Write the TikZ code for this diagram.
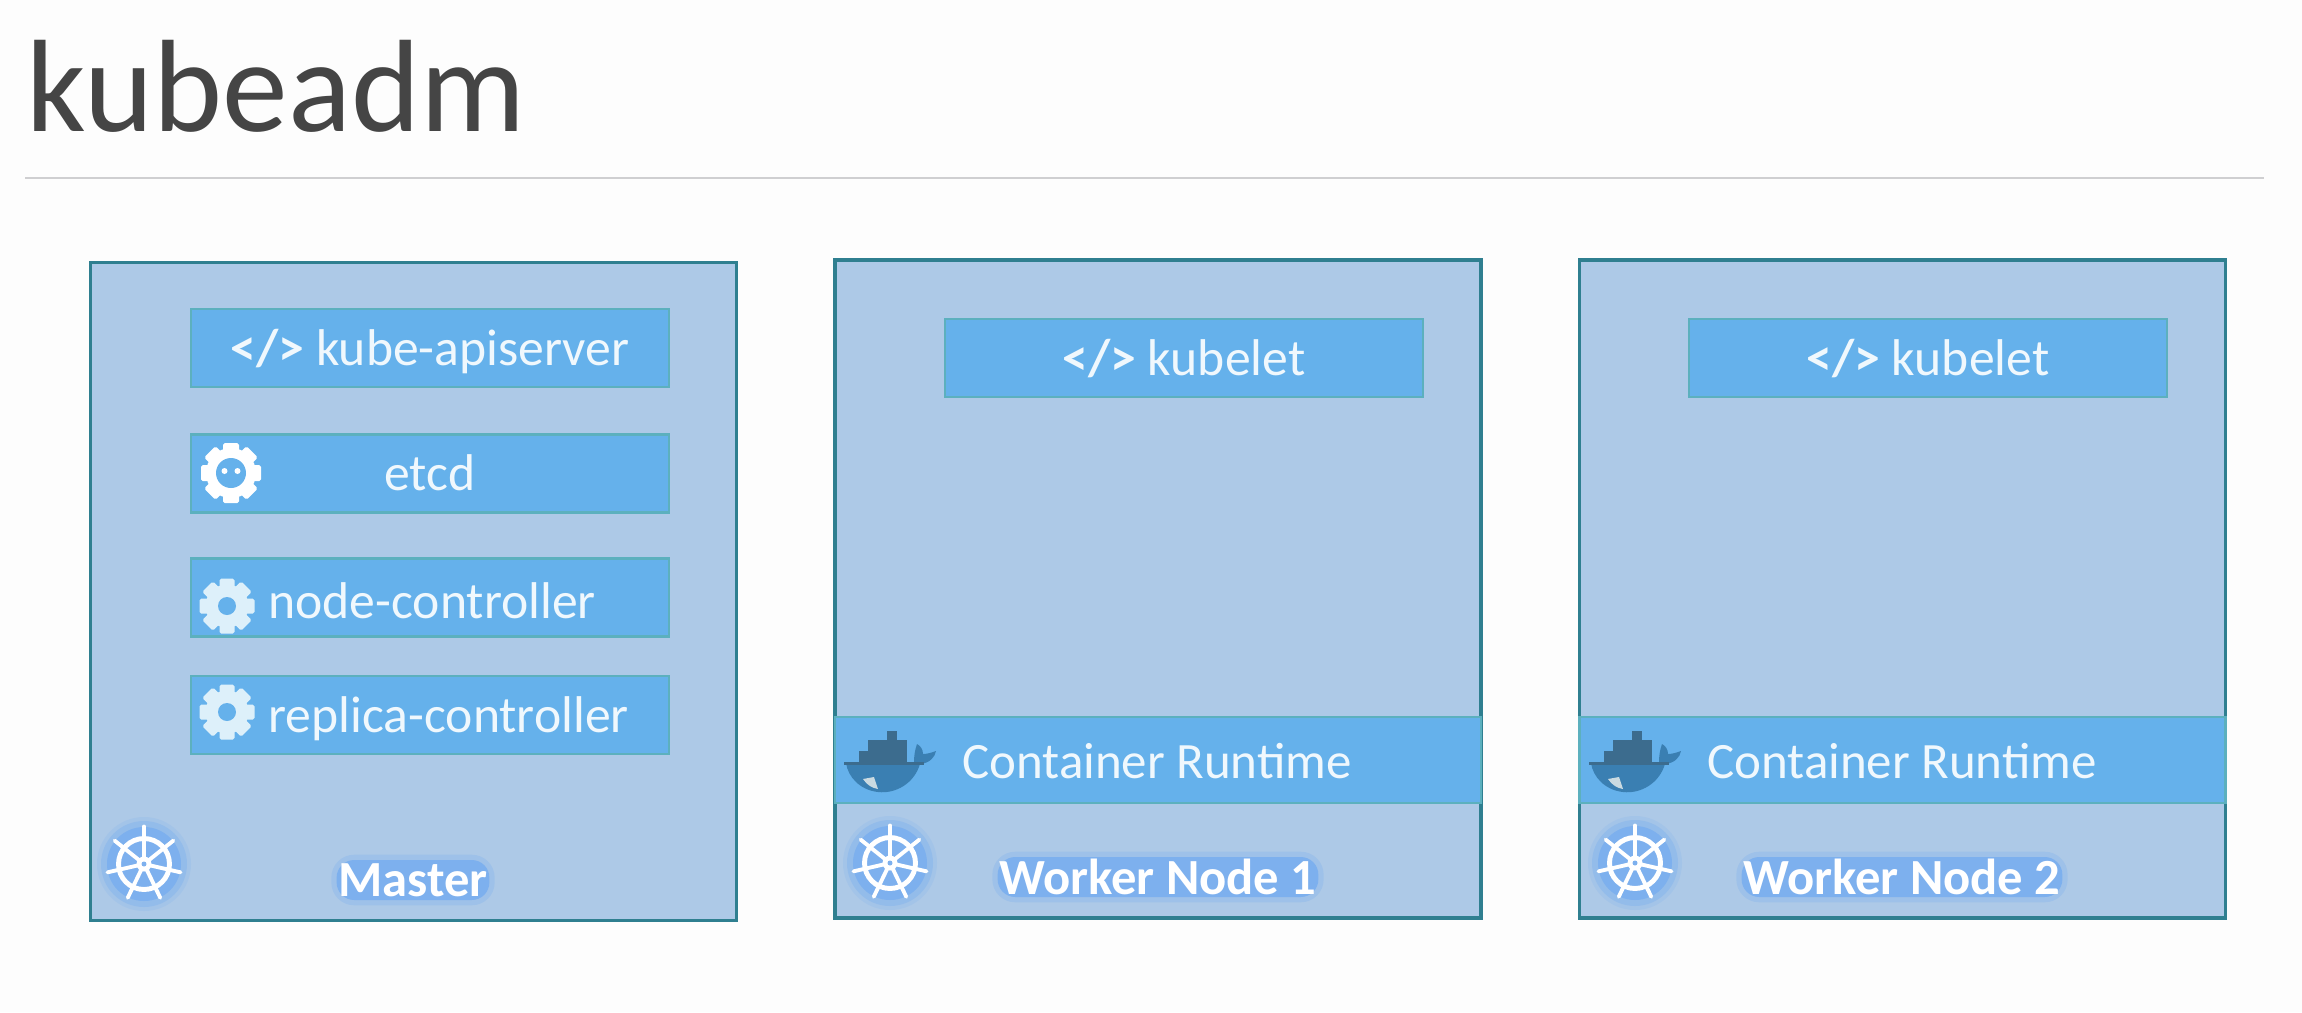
\documentclass[tikz,border=0pt]{standalone}
\usepackage{fontspec}
\setmainfont{Carlito}
\usetikzlibrary{positioning}

\definecolor{pagewhite}{HTML}{FDFDFD}
\definecolor{rulegray}{HTML}{CFCFD1}
\definecolor{titlegray}{HTML}{454545}
\definecolor{panelblue}{HTML}{ADC9E7}
\definecolor{panelteal}{HTML}{2F7F90}
\definecolor{boxblue}{HTML}{65B1EB}
\definecolor{boxteal}{HTML}{5CB0BE}
\definecolor{textwhite}{HTML}{F0F8FD}
\definecolor{gearwhite}{HTML}{DDF0FA}
\definecolor{glowblue}{HTML}{7DB0EE}
\definecolor{whaleblue}{HTML}{3A7FB2}
\definecolor{cratedark}{HTML}{3C6C8E}

\tikzstyle{panel}=[draw=panelteal,line width=0.9pt,fill=panelblue,minimum width=6.46cm,minimum height=6.58cm]
\tikzstyle{itembox}=[draw=boxteal,line width=0.7pt,fill=boxblue,minimum width=4.78cm,minimum height=0.78cm,text=textwhite,text height=11.2pt,text depth=1.3pt,font=\fontsize{14.7}{16}\selectfont]
\tikzstyle{runtimebox}=[draw=boxteal,line width=0.7pt,fill=boxblue,minimum width=6.46cm,minimum height=0.86cm]
\tikzstyle{itemtext}=[text=textwhite,inner sep=0pt,font=\fontsize{14.7}{16}\selectfont]
\tikzstyle{runtimetext}=[text=textwhite,inner sep=0pt,font=\fontsize{14.5}{16}\selectfont]
\tikzstyle{glowlabel}=[fill=glowblue,rounded corners=5pt,text=white,inner xsep=0.5pt,inner ysep=0pt,minimum height=0.40cm,font=\fontsize{14.4}{16}\selectfont\bfseries,preaction={draw=glowblue,line width=3pt,opacity=0.3}]

% gear: centre x, centre y
\newcommand{\drawgear}[2]{
\begin{scope}[shift={(#1,#2)}]
\foreach \a in {0,45,...,315} {
  \fill[gearwhite,rotate=\a,rounded corners=0.5pt] (-0.075,0) rectangle (0.075,0.275);
}
\fill[gearwhite] (0,0) circle (0.215);
\fill[boxblue] (0,0) circle (0.09);
\end{scope}
}
% etcd head
\newcommand{\drawetcd}[2]{
\begin{scope}[shift={(#1,#2)}]
\foreach \a in {0,45,...,315} {
  \fill[white,rotate=\a,rounded corners=0.5pt] (-0.08,0) rectangle (0.08,0.30);
}
\fill[white] (0,0) circle (0.25);
\fill[boxblue] (0,0) circle (0.15);
\fill[white] (-0.065,0.02) circle (0.03);
\fill[white] (0.065,0.02) circle (0.03);
\end{scope}
}
% helm wheel with its glow
\newcommand{\drawwheel}[2]{
\begin{scope}[shift={(#1,#2)}]
\fill[glowblue,opacity=0.2] (0,0) circle (0.47);
\fill[glowblue,opacity=0.4] (0,0) circle (0.43);
\fill[glowblue] (0,0) circle (0.37);
\draw[white,line width=1.4pt] (0,0) circle (0.255);
\foreach \a in {0,...,6} {
  \draw[white,line width=1.1pt,line cap=round] (0,0) -- (90+\a*51.43:0.375);
}
\fill[white] (0,0) circle (0.075);
\fill[glowblue] (0,0) circle (0.025);
\end{scope}
}
% docker whale
\newcommand{\drawwhale}[2]{
\begin{scope}[shift={(#1,#2)}]
\fill[cratedark] (-0.31,-0.03) rectangle (0.17,0.09);
\fill[cratedark] (-0.22,0.09) rectangle (0.17,0.20);
\fill[cratedark] (-0.03,0.20) rectangle (0.07,0.29);
\fill[whaleblue] (-0.44,-0.03) -- (0.24,-0.03) .. controls (0.24,0.05) and (0.25,0.10) .. (0.27,0.16) .. controls (0.31,0.14) and (0.33,0.10) .. (0.33,0.06) .. controls (0.38,0.06) and (0.43,0.08) .. (0.46,0.09) .. controls (0.45,0.03) and (0.40,-0.03) .. (0.30,-0.04) .. controls (0.24,-0.24) and (0.05,-0.34) .. (-0.12,-0.32) .. controls (-0.30,-0.30) and (-0.42,-0.17) .. cycle;
\fill[cratedark] (-0.46,-0.05) rectangle (0.34,-0.015);
\fill[gearwhite!80!gray] (-0.27,-0.19) -- (-0.16,-0.17) -- (-0.12,-0.29) .. controls (-0.18,-0.28) and (-0.23,-0.25) .. cycle;
\end{scope}
}

\begin{document}
\begin{tikzpicture}
\useasboundingbox[fill=pagewhite] (0,0) rectangle (23.02,-10.12);

\node at (0.26,-1.31) [anchor=base west,inner sep=0pt,text=titlegray,font=\fontsize{37.4}{40}\selectfont] (title) {kubeadm};
\coordinate (ruleleft) at (0.25,-1.78);
\coordinate (ruleright) at (22.64,-1.78);
\draw[rulegray,line width=0.8pt] (ruleleft) -- (ruleright);

\node at (4.135,-5.915) [panel] (master) {};
\node at (11.58,-5.89) [panel] (workerone) {};
\node at (19.025,-5.89) [panel] (workertwo) {};

% master
\node at (4.30,-3.48) [itembox] (apiserver) {\textbf{</>} kube-apiserver};
\node at (4.30,-4.735) [itembox] (etcd) {etcd};
\node at (4.30,-5.975) [itembox] (nodectl) {};
\node at (4.30,-7.15) [itembox] (replicactl) {};
\node [itemtext,anchor=west,right=0.78cm of nodectl.west,yshift=-0.03cm] (nodetext) {node-controller};
\node [itemtext,anchor=west,right=0.78cm of replicactl.west,yshift=-0.04cm] (replicatext) {replica-controller};
\drawetcd{2.31}{-4.73}
\drawgear{2.27}{-6.06}
\drawgear{2.27}{-7.12}
\drawwheel{1.44}{-8.64}
\node at (4.13,-8.80) [glowlabel] (masterlabel) {Master};

% worker 1
\node at (11.84,-3.58) [itembox] (kubeletone) {\textbf{</>} kubelet};
\node at (11.58,-7.60) [runtimebox] (runtimeone) {};
\node at (11.57,-7.61) [runtimetext] (runtimeonetext) {Container Runtime};
\drawwhale{8.90}{-7.60}
\drawwheel{8.90}{-8.63}
\node at (11.58,-8.77) [glowlabel] (workeronelabel) {Worker Node 1};

% worker 2
\node at (19.28,-3.58) [itembox] (kubelettwo) {\textbf{</>} kubelet};
\node at (19.025,-7.60) [runtimebox] (runtimetwo) {};
\node at (19.02,-7.61) [runtimetext] (runtimetwotext) {Container Runtime};
\drawwhale{16.35}{-7.60}
\drawwheel{16.35}{-8.63}
\node at (19.02,-8.77) [glowlabel] (workertwolabel) {Worker Node 2};

\end{tikzpicture}
\end{document}
